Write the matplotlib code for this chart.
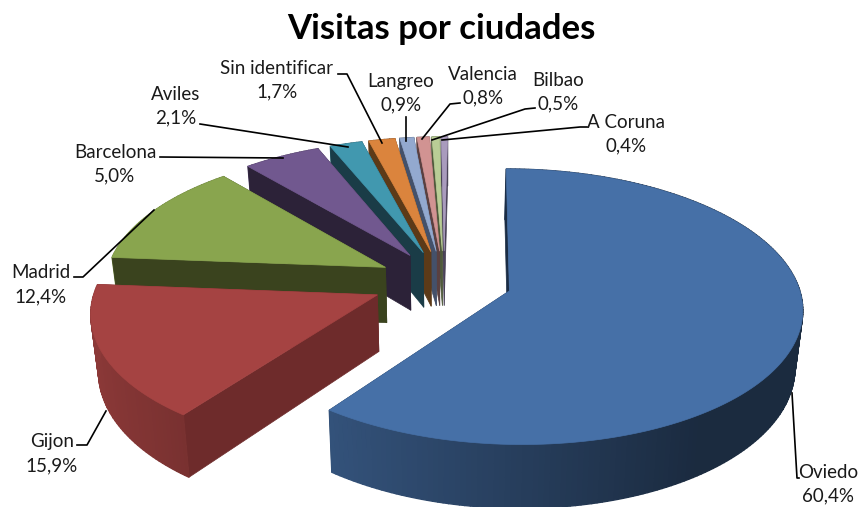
import numpy as np
import matplotlib
matplotlib.use('Agg')
import matplotlib.pyplot as plt
from matplotlib.colors import to_rgb

# Data

cities = ['Oviedo', 'Gijon', 'Madrid', 'Barcelona', 'Aviles', 'Sin identificar',
          'Langreo', 'Valencia', 'Bilbao', 'A Coruna']
shares = [60.4, 15.9, 12.4, 5.0, 2.1, 1.7, 0.9, 0.8, 0.5, 0.4]
top_colors = ['#4670A7', '#A54342', '#89A54E', '#71588F', '#4198AF',
              '#DB843D', '#93A9CF', '#D19392', '#B9CD96', '#A99BBD']
edge_colors = ['#1A2C44', '#6E2B2B', '#3A431E', '#2C2238', '#1A3C47',
               '#5C3A18', '#44516A', '#5A4040', '#4F5A3C', '#473F55']
explode = [0.23, 0.25, 0.23, 0.23, 0.23, 0.23, 0.23, 0.23, 0.23, 0.23]

# Layout of the labels and leader lines, in picture pixels
label_pos = [(828, 484), (52, 454), (41, 285), (115, 164), (176, 106),
             (277, 80), (401, 93), (483, 86), (558, 92), (626, 134)]
leaders = [[(792, 393), (797, 478), (799, 478)],
           [(106, 411), (87, 445), (77, 445)],
           [(154, 210), (83, 277), (74, 277)],
           [(283, 158), (160, 157)],
           [(348, 147), (200, 124)],
           [(382, 143), (347, 74), (338, 74)],
           [(406, 141), (406, 117)],
           [(422, 139), (450, 104), (460, 103)],
           [(432, 140), (525, 109), (535, 108)],
           [(442, 140), (580, 127), (587, 127)]]

# Pie projection
CX, CY = 445, 281
F_X, F_Y = 293, 133.7
PERSP = 0.114
RIM_SHIFT = 0.013
RIM_U = 0.97
DROP = 56
SHRINK = 0.022


def project(u, v, lower=False):
    """Pie plane coordinates to picture pixels"""
    s = 1 / (1 + PERSP * v)
    x = CX + F_X * u * s
    y = CY - F_Y * v * s
    if lower:
        x = CX + (x - CX) * (1 - SHRINK)
        y = y + DROP * s
    return x, y


def shade(color, k):
    return tuple(c * k for c in to_rgb(color))


def rim_factor(t):
    return max(0.38, 0.55 - 0.30 * np.sin(t))


fig = plt.figure(figsize=(8.62, 5.07), dpi=100)
ax = fig.add_axes([0, 0, 1, 1])
ax.set_xlim(0, 862)
ax.set_ylim(507, 0)
ax.axis('off')

fracs = np.array(shares) / sum(shares)
starts = np.concatenate([[0], np.cumsum(fracs)[:-1]]) * 2 * np.pi
ends = np.cumsum(fracs) * 2 * np.pi

# far slices first
for i in range(len(shares) - 1, -1, -1):
    a, b = starts[i], ends[i]
    mid = (a + b) / 2
    u0, v0 = explode[i] * np.sin(mid), explode[i] * np.cos(mid)
    ts = np.linspace(a, b, max(3, int(np.degrees(b - a))))
    us, vs = u0 + RIM_SHIFT + RIM_U * np.sin(ts), v0 + np.cos(ts)

    def curved(back):
        for j in range(len(ts) - 1):
            t = (ts[j] + ts[j + 1]) / 2
            if (np.cos(t) > 0) != back:
                continue
            p1 = project(us[j], vs[j])
            p2 = project(us[j + 1], vs[j + 1])
            p3 = project(us[j + 1], vs[j + 1], True)
            p4 = project(us[j], vs[j], True)
            c = shade(top_colors[i], rim_factor(t))
            ax.fill(*zip(p1, p2, p3, p4), color=c, lw=1.0, zorder=-i)

    curved(True)

    # flat sides
    for j in (0, -1):
        p1 = project(u0, v0)
        p2 = project(us[j], vs[j])
        p3 = project(us[j], vs[j], True)
        p4 = project(u0, v0, True)
        ax.fill(*zip(p1, p2, p3, p4), color=edge_colors[i], lw=0.5, zorder=-i)

    curved(False)

    # top
    xs, ys = project(np.r_[u0, us], np.r_[v0, vs])
    ax.fill(xs, ys, color=top_colors[i], lw=0.5, zorder=-i)

for i in range(len(cities)):
    pts = leaders[i]
    ax.plot([p[0] for p in pts], [p[1] for p in pts], color='black', lw=1.2, zorder=5)
    txt = cities[i] + '\n' + ('%.1f%%' % shares[i]).replace('.', ',')
    ax.text(label_pos[i][0], label_pos[i][1], txt, ha='center', va='center',
            family='Lato', fontsize=13.5, linespacing=1.5, color='#1a1a1a', zorder=6)

ax.text(441, 29, 'Visitas por ciudades', ha='center', va='center', family='Lato',
        fontweight='bold', fontsize=25, color='black')

fig.savefig('out.png', dpi=100)
